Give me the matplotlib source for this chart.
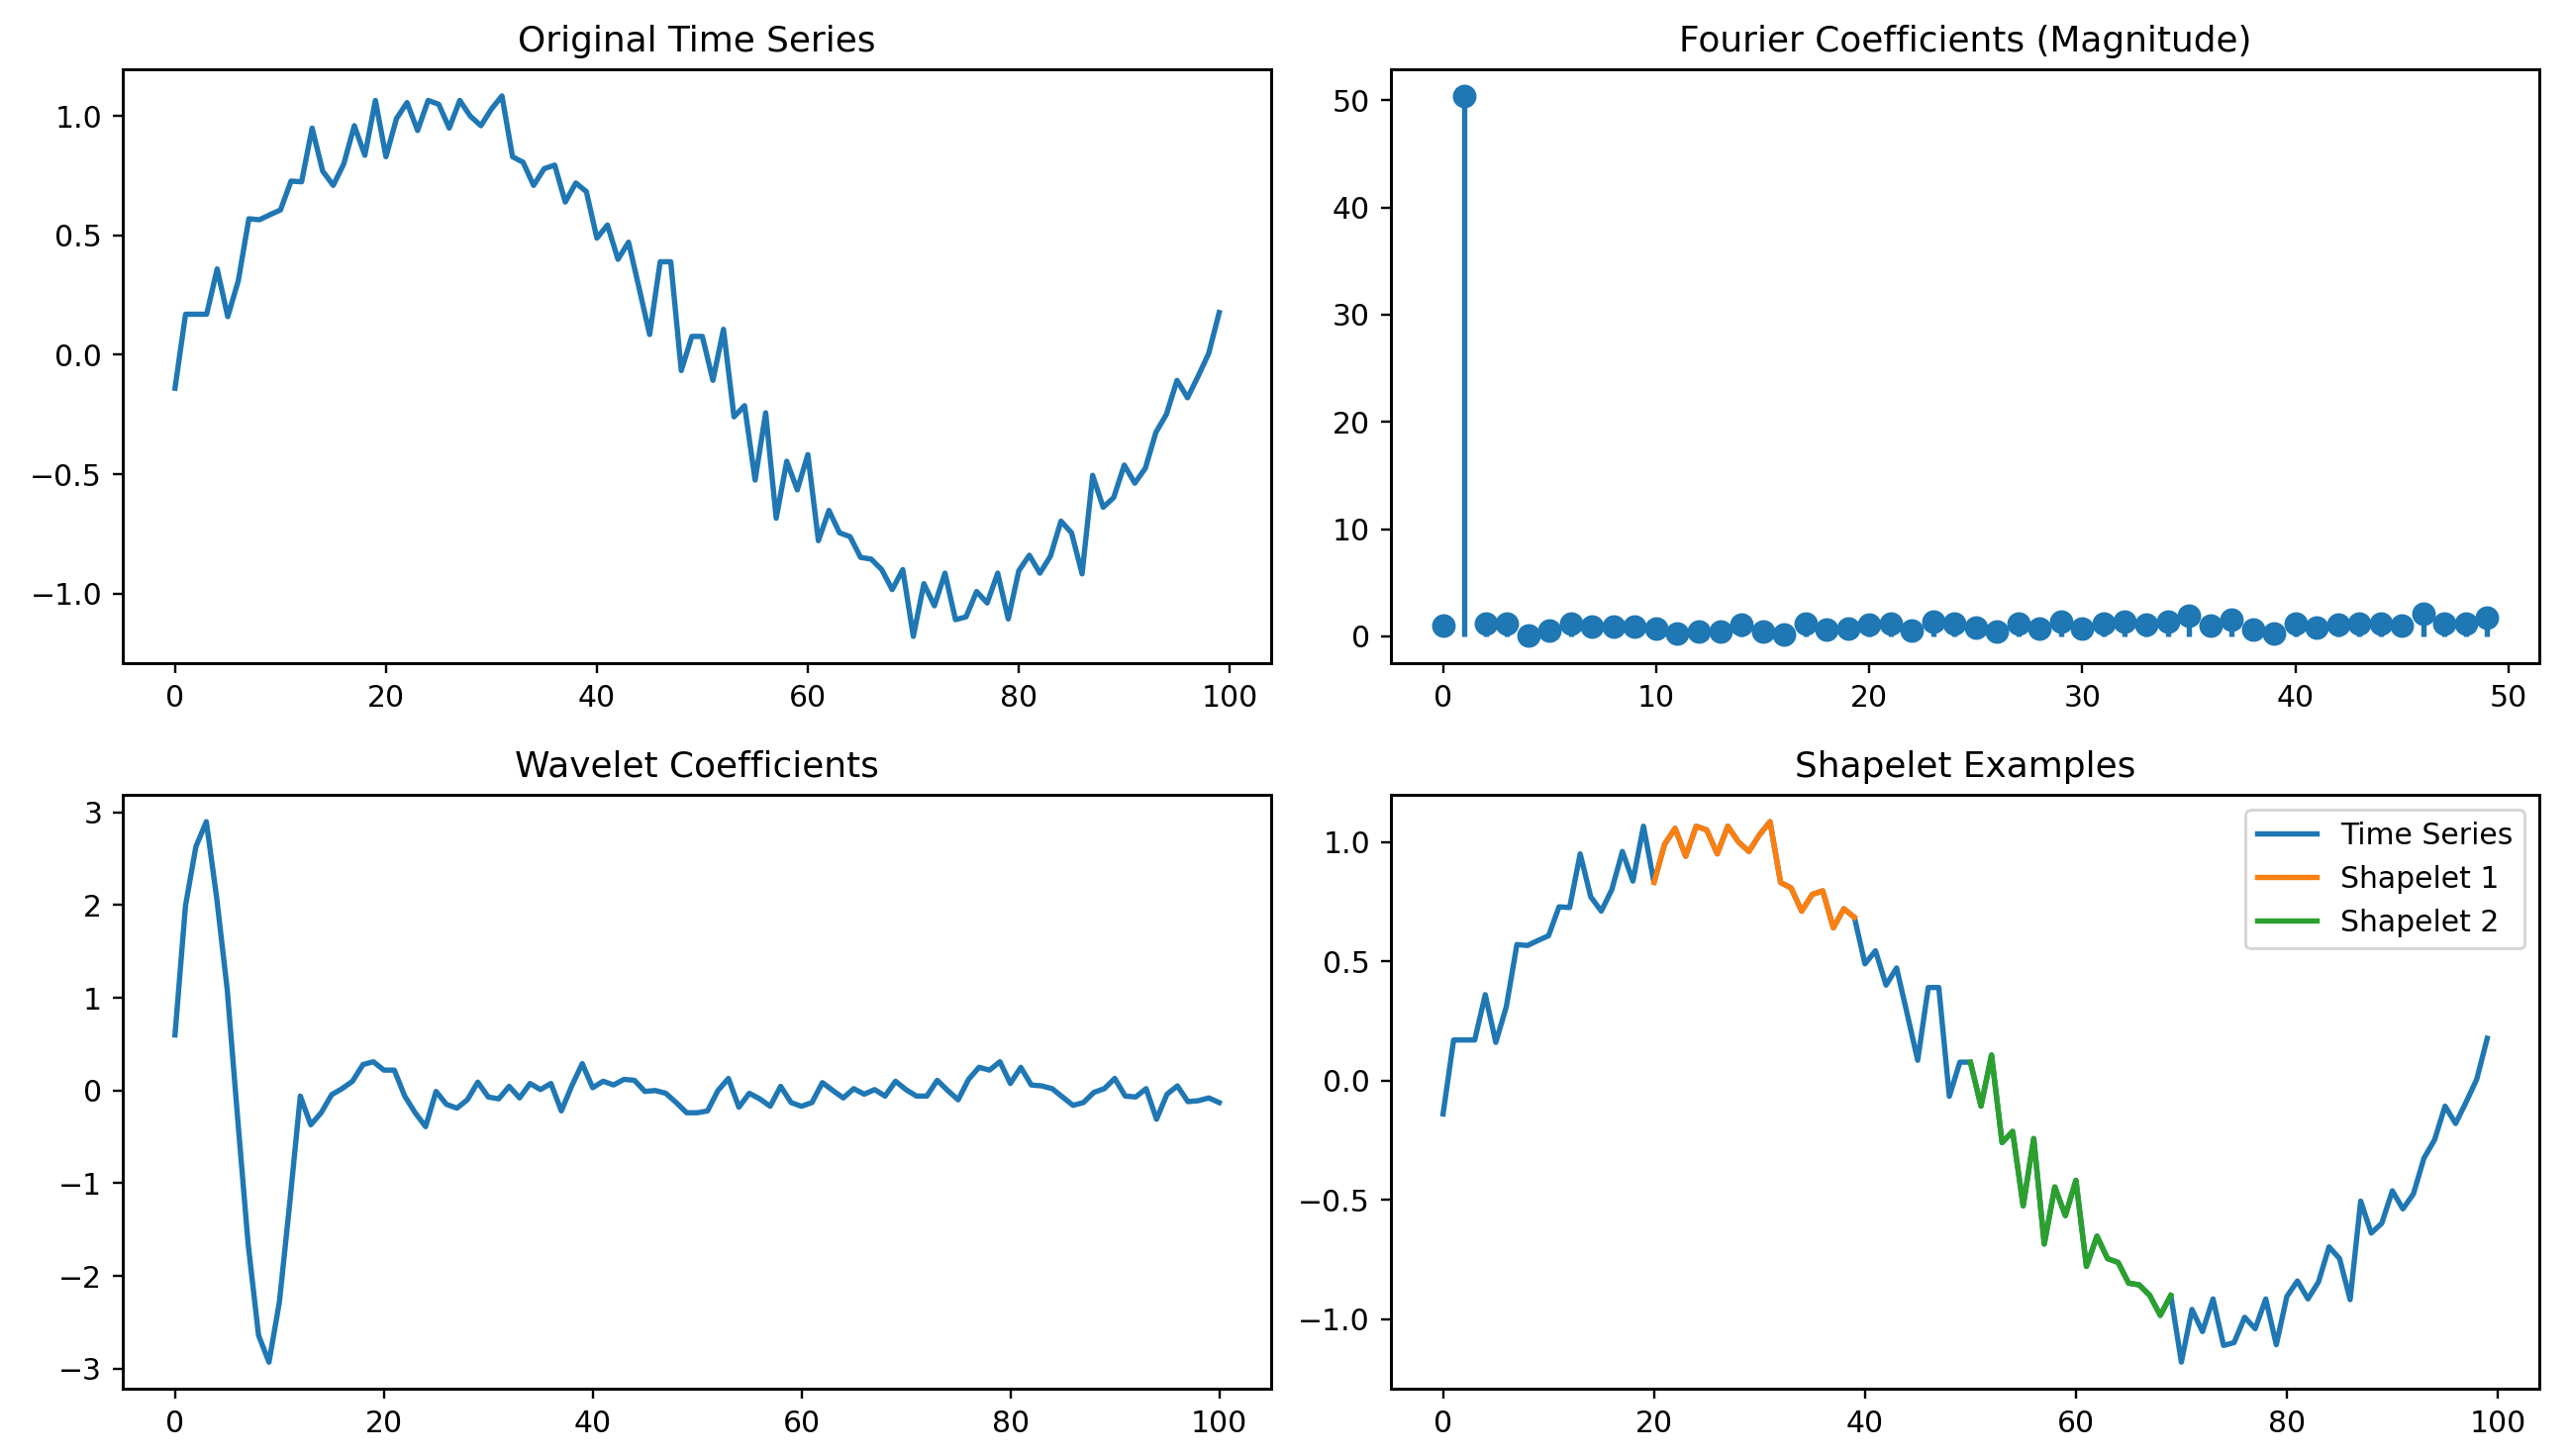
from matplotlib import pyplot
import numpy


time_series = [
    -0.14, 0.17, 0.17, 0.17, 0.36, 0.16, 0.31, 0.57, 0.566, 0.587,
    0.607, 0.728, 0.725, 0.95, 0.77, 0.71, 0.80, 0.96, 0.836, 1.066,
    0.83, 0.99, 1.057, 0.94, 1.066, 1.05, 0.95, 1.066, 1.0, 0.96,
    1.03, 1.085, 0.83, 0.807, 0.71, 0.78, 0.795, 0.64, 0.72, 0.684,
    0.489, 0.544, 0.40, 0.472, 0.28, 0.085, 0.39, 0.39, -0.066, 0.077,
    0.077, -0.107, 0.107, -0.26, -0.213, -0.525, -0.243, -0.685, -0.446, -0.566,
    -0.418, -0.779, -0.652, -0.746, -0.762, -0.849, -0.856, -0.90, -0.984, -0.90,
    -1.18, -0.959, -1.052, -0.915, -1.11, -1.098, -0.992, -1.04, -0.915, -1.107,
    -0.905, -0.84, -0.915, -0.844, -0.697, -0.746, -0.918, -0.505, -0.639, -0.598,
    -0.462, -0.538, -0.475, -0.325, -0.249, -0.107, -0.18, -0.09, 0.005, 0.177,
]

fourier_magnitude = [
    0.98, 50.4, 1.24, 1.17, 0.05, 0.51, 1.17, 0.91, 0.91, 0.91,
    0.73, 0.26, 0.44, 0.44, 1.06, 0.44, 0.15, 1.17, 0.62, 0.73,
    1.06, 1.17, 0.51, 1.42, 1.17, 0.87, 0.44, 1.24, 0.73, 1.35,
    0.73, 1.17, 1.35, 1.09, 1.42, 1.90, 0.98, 1.53, 0.62, 0.26,
    1.17, 0.87, 1.09, 1.17, 1.24, 0.98, 2.08, 1.24, 1.24, 1.79,
]

wavelet_coefficients = [
    0.60, 1.99, 2.63, 2.90, 2.07, 1.09, -0.30, -1.65, -2.64, -2.93,
    -2.28, -1.20, -0.06, -0.37, -0.24, -0.045, 0.02, 0.10, 0.28, 0.31,
    0.22, 0.22, -0.06, -0.24, -0.39, -0.01, -0.15, -0.19, -0.10, 0.09,
    -0.07, -0.09, 0.045, -0.08, 0.076, 0.01, 0.076, -0.22, 0.05, 0.29,
    0.03, 0.10, 0.06, 0.12, 0.11, -0.01, 0.0, -0.03, -0.13, -0.24,
    -0.24, -0.22, 0.0, 0.13, -0.18, -0.03, -0.09, -0.17, 0.045, -0.13,
    -0.17, -0.13, 0.085, 0.0, -0.08, 0.02, -0.04, 0.01, -0.06, 0.10,
    0.01, -0.06, -0.06, 0.11, 0.0, -0.10, 0.12, 0.25, 0.22, 0.31,
    0.076, 0.25, 0.06, 0.05, 0.02, -0.07, -0.16, -0.13, -0.02, 0.02,
    0.13, -0.06, -0.07, 0.02, -0.31, -0.04, 0.05, -0.12, -0.11, -0.08,
    -0.13,
]

# start / stop index of each shapelet inside the time series
shapelet_1 = (20, 40)
shapelet_2 = (50, 70)


def build_figure():
    pyplot.rcParams['lines.linewidth'] = 1.8
    pyplot.rcParams['lines.markersize'] = 7
    pyplot.rcParams['axes.linewidth'] = 1.0

    series = numpy.array(time_series)
    x = numpy.arange(len(series))

    figure, axes = pyplot.subplots(2, 2, figsize=(2595 / 215, 1471 / 215))

    ax = axes[0, 0]
    ax.plot(x, series)
    ax.set_title('Original Time Series')

    ax = axes[0, 1]
    ax.stem(numpy.arange(len(fourier_magnitude)), fourier_magnitude, basefmt=' ')
    ax.set_title('Fourier Coefficients (Magnitude)')

    ax = axes[1, 0]
    ax.plot(numpy.arange(len(wavelet_coefficients)), wavelet_coefficients)
    ax.set_title('Wavelet Coefficients')

    ax = axes[1, 1]
    ax.plot(x, series, label='Time Series')
    start, stop = shapelet_1
    ax.plot(x[start:stop], series[start:stop], label='Shapelet 1')
    start, stop = shapelet_2
    ax.plot(x[start:stop], series[start:stop], label='Shapelet 2')
    ax.set_title('Shapelet Examples')
    ax.legend(loc='upper right')

    figure.subplots_adjust(left=0.0478, right=0.9885, top=0.9527, bottom=0.0459,
                           wspace=0.104, hspace=0.2207)
    figure.savefig('out.png', dpi=215)


if __name__ == '__main__':
    build_figure()
